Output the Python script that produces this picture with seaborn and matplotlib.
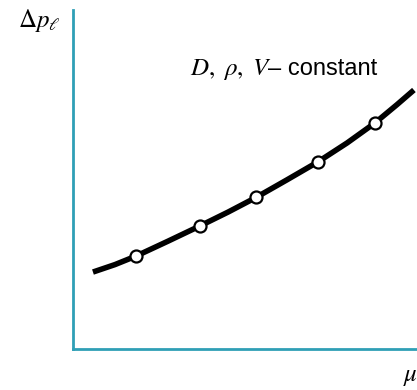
import matplotlib
matplotlib.use("Agg")
import matplotlib.pyplot as plt
import seaborn as sns
import pandas as pd

# Pressure drop vs. viscosity (arbitrary units), D, rho, V held constant
curve_mu = [0.58, 1.22, 1.83, 2.76, 3.69, 4.51, 5.32, 6.22, 7.12, 7.97, 8.78, 9.42, 9.91]
curve_dp = [2.27, 2.49, 2.74, 3.18, 3.63, 4.04, 4.47, 4.99, 5.52, 6.08, 6.67, 7.21, 7.64]

# measured points sitting on the curve
point_mu = [1.83, 3.69, 5.32, 7.12, 8.78]
point_dp = [2.74, 3.63, 4.47, 5.52, 6.67]

axis_color = "#2f9fb6"

sns.set_theme(style="white")
plt.rcParams["font.family"] = ["Liberation Sans", "DejaVu Sans"]
plt.rcParams["mathtext.fontset"] = "stix"
plt.rcParams["text.color"] = "black"

fig = plt.figure(figsize=(4.17, 3.90), dpi=100)
ax = fig.add_axes([73 / 417, 41 / 390, 344 / 417, 339 / 390])

curve = pd.DataFrame({"mu": curve_mu, "dp": curve_dp})
points = pd.DataFrame({"mu": point_mu, "dp": point_dp})

sns.lineplot(data=curve, x="mu", y="dp", ax=ax, color="black", lw=4.0,
             solid_capstyle="butt", solid_joinstyle="round", sort=True)
sns.scatterplot(data=points, x="mu", y="dp", ax=ax, s=75, color="white",
                edgecolor="black", linewidth=1.6, zorder=5)

ax.set_xlim(0, 10)
ax.set_ylim(0, 10)
ax.set_xticks([])
ax.set_yticks([])
ax.set_xlabel("")
ax.set_ylabel("")
for side in ("top", "right"):
    ax.spines[side].set_visible(False)
for side in ("left", "bottom"):
    ax.spines[side].set_color(axis_color)
    ax.spines[side].set_linewidth(2.0)

# axis labels
fig.text(18 / 417, 1 - 20 / 390, r"$\Delta p_\ell$", fontsize=18,
         ha="left", va="center")
fig.text(403 / 417, 1 - 376 / 390, r"$\mu$", fontsize=18,
         ha="left", va="center")

# annotation
fig.text(190 / 417, 1 - 75 / 390, r"$D,\ \rho,\ V$", fontsize=18,
         ha="left", va="baseline")
fig.text(268 / 417, 1 - 75 / 390, "\u2013 constant", fontsize=17,
         ha="left", va="baseline")

fig.savefig("out.png", dpi=100)
